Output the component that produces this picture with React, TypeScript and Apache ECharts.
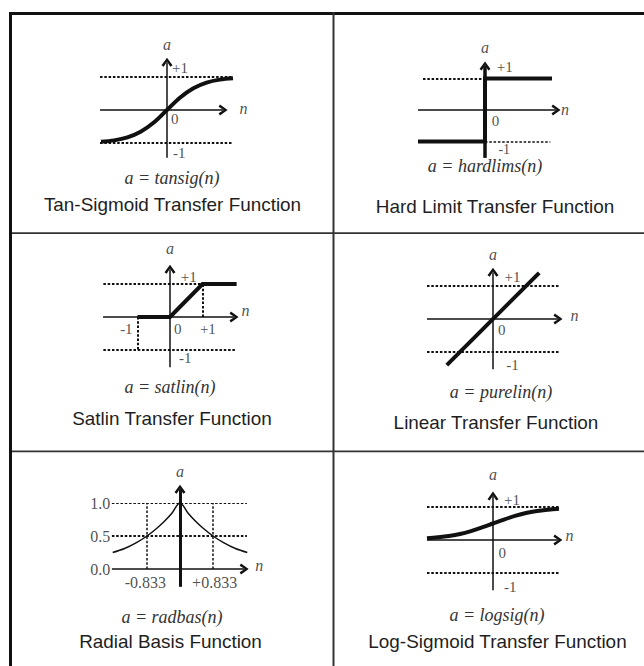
import React, { useEffect, useRef } from "react";
import * as echarts from "echarts";

// ---- function samples (n, a) ----
const tansigN = [-2, -1.6, -1.2, -0.8, -0.4, 0, 0.4, 0.8, 1.2, 1.6, 2];
const tansigA = [-0.96, -0.92, -0.83, -0.66, -0.38, 0, 0.38, 0.66, 0.83, 0.92, 0.96];

const hardlimsN = [-2, 0, 0, 2];
const hardlimsA = [-1, -1, 1, 1];

const satlinN = [-1, 0, 1, 2.05];
const satlinA = [0, 0, 1, 1];

const purelinN = [-1.4, 1.4];
const purelinA = [-1.4, 1.4];

const radbasN = [-1.7, -1.4, -1.1, -0.833, -0.6, -0.4, -0.2, 0, 0.2, 0.4, 0.6, 0.833, 1.1, 1.4, 1.7];
const radbasA = [0.25, 0.31, 0.4, 0.5, 0.61, 0.72, 0.85, 1.0, 0.85, 0.72, 0.61, 0.5, 0.4, 0.31, 0.25];

const logsigN = [-3, -2.5, -2, -1.5, -1, -0.5, 0, 0.5, 1, 1.5, 2, 2.5, 3];
const logsigA = [0.05, 0.08, 0.12, 0.18, 0.27, 0.38, 0.5, 0.62, 0.73, 0.82, 0.88, 0.92, 0.95];

// ---- reference levels and tick texts ----
const radbasLevels = [1.0, 0.5, 0.0];
const radbasLevelText = ["1.0", "0.5", "0.0"];
const radbasHalf = [-0.833, 0.833];
const radbasHalfText = ["-0.833", "+0.833"];

const formulas = [
  "a = tansig(n)",
  "a = hardlims(n)",
  "a = satlin(n)",
  "a = purelin(n)",
  "a = radbas(n)",
  "a = logsig(n)",
];
const titles = [
  "Tan-Sigmoid Transfer Function",
  "Hard Limit Transfer Function",
  "Satlin Transfer Function",
  "Linear Transfer Function",
  "Radial Basis Function",
  "Log-Sigmoid Transfer Function",
];

type Seg = [[number, number], [number, number]];
type Lbl = { t: string; n: number; a: number; al?: string; it?: boolean; fs?: number };

// per-panel plot layout: origin in px, px per unit, visible ranges
const layout = [
  { ox: 167, oy: 110, sx: 33, sy: 33, x: [-2.6, 2.6], y: [-1.8, 2.3] },
  { ox: 485, oy: 110, sx: 33.5, sy: 31.5, x: [-2.6, 2.6], y: [-1.8, 2.3] },
  { ox: 170, oy: 317, sx: 32.5, sy: 33, x: [-2.6, 2.6], y: [-1.8, 2.4] },
  { ox: 493, oy: 319, sx: 33, sy: 33, x: [-2.6, 2.6], y: [-1.8, 2.3] },
  { ox: 180, oy: 569, sx: 39.6, sy: 66, x: [-2.3, 2.3], y: [-0.4, 1.6] },
  { ox: 493, oy: 540, sx: 22, sy: 33, x: [-3.6, 3.6], y: [-1.8, 2.3] },
];
const textPos = [
  { fx: 172, fy: 178, tx: 172.5, ty: 205 },
  { fx: 485, fy: 166, tx: 495, ty: 207 },
  { fx: 170, fy: 387, tx: 172, ty: 419 },
  { fx: 501, fy: 392, tx: 496, ty: 423 },
  { fx: 172, fy: 617, tx: 170.5, ty: 642 },
  { fx: 497, fy: 615, tx: 497.5, ty: 642 },
];

const curves = [
  { n: tansigN, a: tansigA, w: 4, smooth: true },
  { n: hardlimsN, a: hardlimsA, w: 4, smooth: false },
  { n: satlinN, a: satlinA, w: 4, smooth: false },
  { n: purelinN, a: purelinA, w: 4, smooth: false },
  { n: radbasN, a: radbasA, w: 1.5, smooth: true },
  { n: logsigN, a: logsigA, w: 4, smooth: true },
];

// axis segments: [horizontal n-axis, vertical a-axis] (arrow at the end point)
const axes: { h: Seg; v: Seg; vw: number }[] = [
  { h: [[-2.03, 0], [1.7, 0]], v: [[0, -1.45], [0, 1.45]], vw: 1.5 },
  { h: [[-2.0, 0], [2.12, 0]], v: [[0, -1.52], [0, 1.4]], vw: 3.5 },
  { h: [[-2.06, 0], [1.97, 0]], v: [[0, -1.52], [0, 1.45]], vw: 1.5 },
  { h: [[-2.0, 0], [1.97, 0]], v: [[0, -1.52], [0, 1.42]], vw: 1.5 },
  { h: [[-1.72, 0], [1.62, 0]], v: [[0, -0.27], [0, 1.21]], vw: 3 },
  { h: [[-3.0, 0], [2.95, 0]], v: [[0, -1.52], [0, 1.33]], vw: 1.5 },
];

// dotted guide segments with widths
const guides: { s: Seg; w: number }[][] = [
  [
    { s: [[-2.03, 1], [2.0, 1]], w: 2 },
    { s: [[-2.03, -1], [2.0, -1]], w: 2 },
  ],
  [
    { s: [[-1.85, 1], [0, 1]], w: 2 },
    { s: [[0, -1], [1.95, -1]], w: 1.5 },
  ],
  [
    { s: [[-2.05, 1], [1.0, 1]], w: 2 },
    { s: [[-2.05, -1], [2.05, -1]], w: 2 },
    { s: [[1, 0], [1, 1]], w: 2 },
    { s: [[-1, 0], [-1, -1]], w: 2 },
  ],
  [
    { s: [[-2.0, 1], [2.03, 1]], w: 2 },
    { s: [[-2.0, -1], [2.03, -1]], w: 2 },
  ],
  [
    { s: [[-1.72, radbasLevels[0]], [1.69, radbasLevels[0]]], w: 1.2 },
    { s: [[-1.72, radbasLevels[1]], [1.69, radbasLevels[1]]], w: 2 },
    { s: [[radbasHalf[0], 0], [radbasHalf[0], 1]], w: 1.5 },
    { s: [[radbasHalf[1], 0], [radbasHalf[1], 1]], w: 1.5 },
  ],
  [
    { s: [[-3.0, 1], [3.0, 1]], w: 2 },
    { s: [[-3.0, -1], [3.0, -1]], w: 2 },
  ],
];

const labels: Lbl[][] = [
  [
    { t: "a", n: 0, a: 2.0, al: "center", it: true },
    { t: "n", n: 2.2, a: 0.05, it: true },
    { t: "+1", n: 0.15, a: 1.27 },
    { t: "0", n: 0.12, a: -0.27 },
    { t: "-1", n: 0.18, a: -1.3 },
  ],
  [
    { t: "a", n: 0, a: 2.0, al: "center", it: true },
    { t: "n", n: 2.27, a: 0.03, it: true },
    { t: "+1", n: 0.35, a: 1.35 },
    { t: "0", n: 0.2, a: -0.35 },
    { t: "-1", n: 0.4, a: -1.24, fs: 14 },
  ],
  [
    { t: "a", n: 0, a: 2.09, al: "center", it: true },
    { t: "n", n: 2.2, a: 0.2, it: true },
    { t: "+1", n: 0.33, a: 1.2 },
    { t: "-1", n: -1.15, a: -0.35, al: "right" },
    { t: "0", n: 0.12, a: -0.35 },
    { t: "+1", n: 0.92, a: -0.35 },
    { t: "-1", n: 0.28, a: -1.24 },
  ],
  [
    { t: "a", n: 0, a: 1.94, al: "center", it: true },
    { t: "n", n: 2.35, a: 0.12, it: true },
    { t: "+1", n: 0.35, a: 1.27 },
    { t: "0", n: 0.15, a: -0.33 },
    { t: "-1", n: 0.4, a: -1.4 },
  ],
  [
    { t: "a", n: 0, a: 1.47, al: "center", it: true },
    { t: "n", n: 1.9, a: 0.06, it: true },
    ...radbasLevels.map((v, i) => ({ t: radbasLevelText[i], n: -1.76, a: v, al: "right", fs: 16 })),
    ...radbasHalf.map((v, i) => ({ t: radbasHalfText[i], n: v * 1.05, a: -0.2, al: "center", fs: 16 })),
  ],
  [
    { t: "a", n: 0, a: 1.97, al: "center", it: true },
    { t: "n", n: 3.3, a: 0.15, it: true },
    { t: "+1", n: 0.5, a: 1.2 },
    { t: "0", n: 0.25, a: -0.4 },
    { t: "-1", n: 0.5, a: -1.42 },
  ],
];

// open chevron arrow head, pointing up (rotated along the line by ECharts)
const ARROW = "path://M0,9 L6,0 L12,9 L9.6,10.6 L6,4.6 L2.4,10.6 Z";
const INK = "#111";

function buildOption() {
  const grid = layout.map((p) => ({
    left: p.ox + p.x[0] * p.sx,
    top: p.oy - p.y[1] * p.sy,
    width: (p.x[1] - p.x[0]) * p.sx,
    height: (p.y[1] - p.y[0]) * p.sy,
    containLabel: false,
  }));
  const xAxis = layout.map((p, i) => ({ type: "value", gridIndex: i, min: p.x[0], max: p.x[1], show: false }));
  const yAxis = layout.map((p, i) => ({ type: "value", gridIndex: i, min: p.y[0], max: p.y[1], show: false }));

  const series: any[] = [];
  layout.forEach((_, i) => {
    const c = curves[i];
    const ax = axes[i];
    const seg = (s: Seg, w: number, dotted: boolean, arrow: boolean) => [
      {
        coord: s[0],
        symbol: "none",
        lineStyle: { color: INK, width: w, type: dotted ? [2.5, 1.8] : "solid", opacity: 1 },
      },
      { coord: s[1], symbol: arrow ? ARROW : "none", symbolSize: [11, 9] },
    ];
    // axes and dotted guides
    series.push({
      type: "line",
      xAxisIndex: i,
      yAxisIndex: i,
      data: [],
      silent: true,
      clip: false,
      color: INK,
      markLine: {
        silent: true,
        animation: false,
        symbol: ["none", "none"],
        label: { show: false },
        emphasis: { disabled: true },
        data: [
          ...guides[i].map((g) => seg(g.s, g.w, true, false)),
          seg(ax.h, 1.5, false, true),
          seg(ax.v, ax.vw, false, true),
        ],
      },
    });
    // the transfer function
    series.push({
      type: "line",
      xAxisIndex: i,
      yAxisIndex: i,
      data: c.n.map((n, k) => [n, c.a[k]]),
      showSymbol: false,
      symbol: "none",
      smooth: c.smooth ? 0.35 : false,
      silent: true,
      clip: false,
      color: INK,
      lineStyle: { color: INK, width: c.w, cap: "butt", join: "miter" },
      z: 3,
    });
    // axis texts
    series.push({
      type: "scatter",
      xAxisIndex: i,
      yAxisIndex: i,
      symbolSize: 0,
      silent: true,
      clip: false,
      color: "#222",
      itemStyle: { color: "#222" },
      z: 4,
      data: labels[i].map((l) => ({
        value: [l.n, l.a],
        label: {
          show: true,
          formatter: l.t,
          position: [0, 0],
          align: l.al || "left",
          verticalAlign: "middle",
          fontFamily: "Liberation Serif",
          fontStyle: l.it ? "italic" : "normal",
          fontSize: l.fs || (l.it ? 16 : 15),
          color: "#222",
          textBorderWidth: 0,
          textBorderColor: "transparent",
        },
      })),
    });
  });

  const frame = [
    { x: 9, y: 12, w: 3, h: 654, c: "#111" },
    { x: 9, y: 12, w: 635, h: 3, c: "#111" },
    { x: 332.5, y: 12, w: 2, h: 654, c: "#333" },
    { x: 12, y: 232.3, w: 632, h: 1.8, c: "#333" },
    { x: 12, y: 450.5, w: 632, h: 1.8, c: "#333" },
  ];
  const graphic: any[] = [
    ...frame.map((f) => ({
      type: "rect",
      silent: true,
      shape: { x: f.x, y: f.y, width: f.w, height: f.h },
      style: { fill: f.c },
    })),
    ...textPos.map((p, i) => ({
      type: "text",
      silent: true,
      x: p.fx,
      y: p.fy,
      style: {
        text: formulas[i],
        fontFamily: "Liberation Serif",
        fontStyle: "italic",
        fontSize: 18,
        fill: "#333",
        align: "center",
        verticalAlign: "middle",
      },
    })),
    ...textPos.map((p, i) => ({
      type: "text",
      silent: true,
      x: p.tx,
      y: p.ty,
      scaleX: 1.08,
      style: {
        text: titles[i],
        fontFamily: "Liberation Sans",
        fontSize: 17.5,
        fill: "#1e1e1e",
        align: "center",
        verticalAlign: "middle",
      },
    })),
  ];

  return {
    animation: false,
    backgroundColor: "#fff",
    grid,
    xAxis,
    yAxis,
    series,
    graphic,
  };
}

export default function App() {
  const ref = useRef<HTMLDivElement>(null);
  useEffect(() => {
    if (!ref.current) return;
    const chart = echarts.init(ref.current, undefined, { renderer: "svg" });
    chart.setOption(buildOption() as any);
    return () => chart.dispose();
  }, []);
  return (
    <div
      ref={ref}
      style={{ position: "absolute", left: 0, top: 0, width: 644, height: 666, background: "#fff" }}
    />
  );
}
